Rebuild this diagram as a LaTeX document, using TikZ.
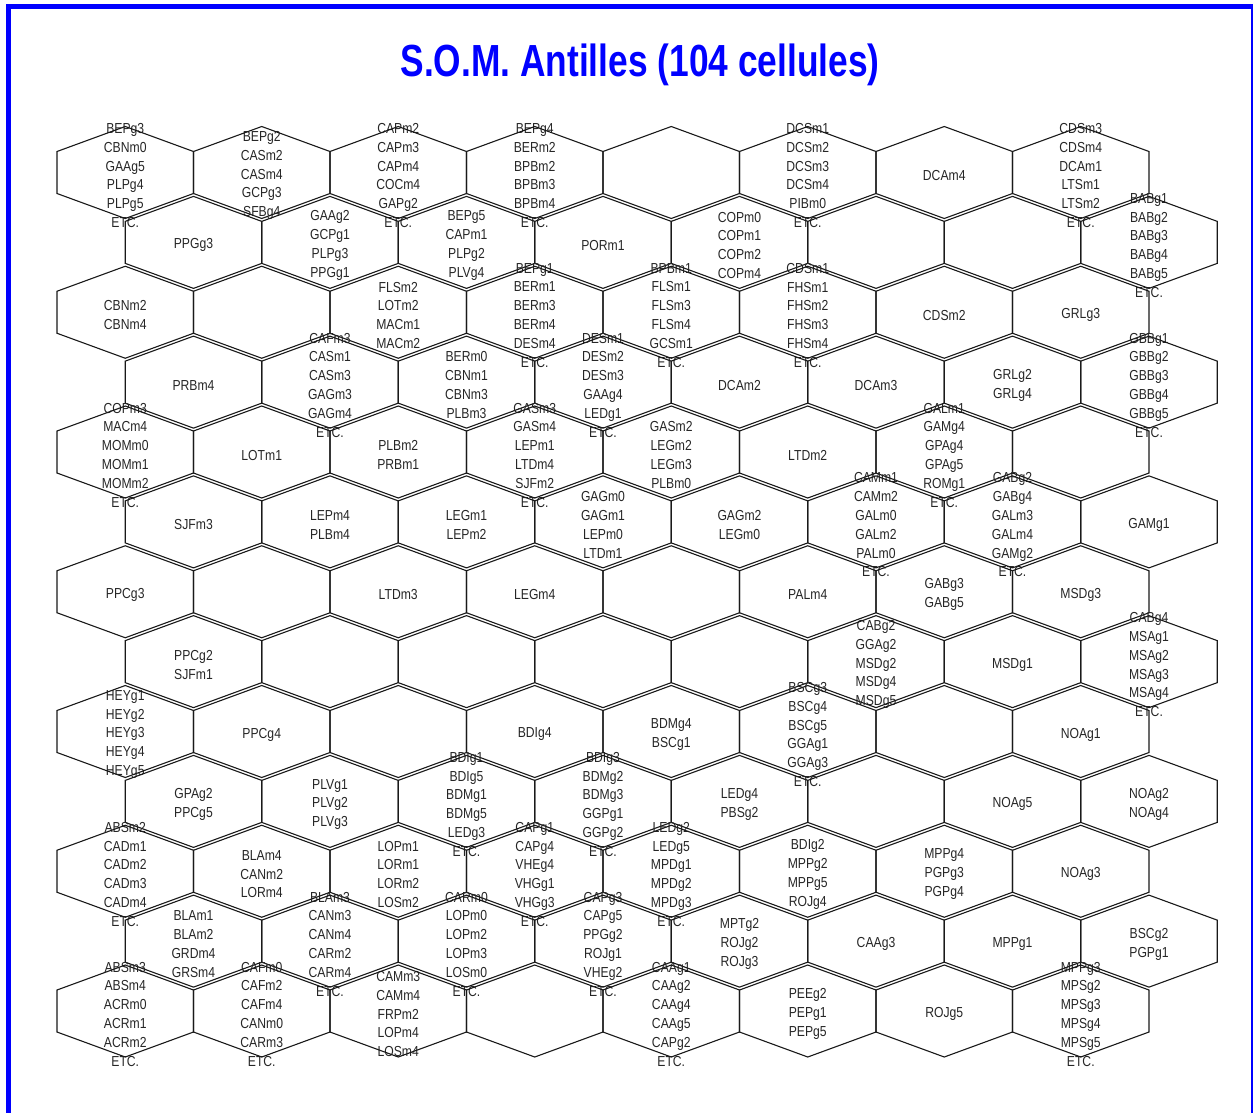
\documentclass[tikz,border=0pt]{standalone}
\usepackage{fontspec}
\setmainfont{Liberation Sans}
\newfontfamily\cellfont[FakeStretch=0.84]{Liberation Sans}
\newfontfamily\titlefont[FakeStretch=0.785]{Liberation Sans}
\usetikzlibrary{calc}
\definecolor{somBlue}{HTML}{0000FF}
\definecolor{somText}{HTML}{262626}

% one cell of the map: row, column, labels
\newcommand{\somcell}[3]{%
  \pgfmathsetmacro{\cx}{125.25+136.5*#2+68.25*mod(#1,2)}%
  \pgfmathsetmacro{\cy}{172.5+69.875*#1}%
  \node[lab] (c#1-#2) at (\cx,\cy+3) {#3};
  \draw[hexline] (\cx-68.25,\cy-21) -- (\cx,\cy-46) -- (\cx+68.25,\cy-21)
    -- (\cx+68.25,\cy+21) -- (\cx,\cy+46) -- (\cx-68.25,\cy+21) -- cycle;
}

\begin{document}
\begin{tikzpicture}[x=1pt, y=-1pt,
    lab/.style={font=\cellfont\fontsize{14.5}{18.8}\selectfont, text=somText,
                align=center, inner sep=0pt},
    hexline/.style={draw=black!90, line width=1.1pt},
  ]
    \useasboundingbox (0,0) rectangle (1253,1112);
    \clip (0,0) rectangle (1253,1112);

    % frame and title
    \draw[somBlue, line width=5pt] (8.5,6.5) rectangle (1253.5,1140);
    \node[font=\titlefont\bfseries\fontsize{45}{50}\selectfont, text=somBlue,
          anchor=base] (title) at (640,76) {S.O.M. Antilles (104 cellules)};

    % row 0
    \foreach \lab [count=\col from 0] in {
      {BEPg3\\CBNm0\\GAAg5\\PLPg4\\PLPg5\\ETC.}, {BEPg2\\CASm2\\CASm4\\GCPg3\\SFBg4},
      {CAPm2\\CAPm3\\CAPm4\\COCm4\\GAPg2\\ETC.}, {BEPg4\\BERm2\\BPBm2\\BPBm3\\BPBm4\\ETC.},
      {}, {DCSm1\\DCSm2\\DCSm3\\DCSm4\\PIBm0\\ETC.}, {DCAm4},
      {CDSm3\\CDSm4\\DCAm1\\LTSm1\\LTSm2\\ETC.}}
      {\somcell{0}{\col}{\lab}}
    % row 1
    \foreach \lab [count=\col from 0] in {
      {PPGg3}, {GAAg2\\GCPg1\\PLPg3\\PPGg1}, {BEPg5\\CAPm1\\PLPg2\\PLVg4}, {PORm1},
      {COPm0\\COPm1\\COPm2\\COPm4}, {}, {}, {BABg1\\BABg2\\BABg3\\BABg4\\BABg5\\ETC.}}
      {\somcell{1}{\col}{\lab}}
    % row 2
    \foreach \lab [count=\col from 0] in {
      {CBNm2\\CBNm4}, {}, {FLSm2\\LOTm2\\MACm1\\MACm2},
      {BEPg1\\BERm1\\BERm3\\BERm4\\DESm4\\ETC.}, {BPBm1\\FLSm1\\FLSm3\\FLSm4\\GCSm1\\ETC.},
      {CDSm1\\FHSm1\\FHSm2\\FHSm3\\FHSm4\\ETC.}, {CDSm2}, {GRLg3}}
      {\somcell{2}{\col}{\lab}}
    % row 3
    \foreach \lab [count=\col from 0] in {
      {PRBm4}, {CAFm3\\CASm1\\CASm3\\GAGm3\\GAGm4\\ETC.}, {BERm0\\CBNm1\\CBNm3\\PLBm3},
      {DESm1\\DESm2\\DESm3\\GAAg4\\LEDg1\\ETC.}, {DCAm2}, {DCAm3}, {GRLg2\\GRLg4},
      {GBBg1\\GBBg2\\GBBg3\\GBBg4\\GBBg5\\ETC.}}
      {\somcell{3}{\col}{\lab}}
    % row 4
    \foreach \lab [count=\col from 0] in {
      {COPm3\\MACm4\\MOMm0\\MOMm1\\MOMm2\\ETC.}, {LOTm1}, {PLBm2\\PRBm1},
      {GASm3\\GASm4\\LEPm1\\LTDm4\\SJFm2\\ETC.}, {GASm2\\LEGm2\\LEGm3\\PLBm0}, {LTDm2},
      {GALm1\\GAMg4\\GPAg4\\GPAg5\\ROMg1\\ETC.}, {}}
      {\somcell{4}{\col}{\lab}}
    % row 5
    \foreach \lab [count=\col from 0] in {
      {SJFm3}, {LEPm4\\PLBm4}, {LEGm1\\LEPm2}, {GAGm0\\GAGm1\\LEPm0\\LTDm1},
      {GAGm2\\LEGm0}, {CAMm1\\CAMm2\\GALm0\\GALm2\\PALm0\\ETC.},
      {GABg2\\GABg4\\GALm3\\GALm4\\GAMg2\\ETC.}, {GAMg1}}
      {\somcell{5}{\col}{\lab}}
    % row 6
    \foreach \lab [count=\col from 0] in {
      {PPCg3}, {}, {LTDm3}, {LEGm4}, {}, {PALm4}, {GABg3\\GABg5}, {MSDg3}}
      {\somcell{6}{\col}{\lab}}
    % row 7
    \foreach \lab [count=\col from 0] in {
      {PPCg2\\SJFm1}, {}, {}, {}, {}, {CABg2\\GGAg2\\MSDg2\\MSDg4\\MSDg5}, {MSDg1},
      {CABg4\\MSAg1\\MSAg2\\MSAg3\\MSAg4\\ETC.}}
      {\somcell{7}{\col}{\lab}}
    % row 8
    \foreach \lab [count=\col from 0] in {
      {HEYg1\\HEYg2\\HEYg3\\HEYg4\\HEYg5}, {PPCg4}, {}, {BDIg4}, {BDMg4\\BSCg1},
      {BSCg3\\BSCg4\\BSCg5\\GGAg1\\GGAg3\\ETC.}, {}, {NOAg1}}
      {\somcell{8}{\col}{\lab}}
    % row 9
    \foreach \lab [count=\col from 0] in {
      {GPAg2\\PPCg5}, {PLVg1\\PLVg2\\PLVg3}, {BDIg1\\BDIg5\\BDMg1\\BDMg5\\LEDg3\\ETC.},
      {BDIg3\\BDMg2\\BDMg3\\GGPg1\\GGPg2\\ETC.}, {LEDg4\\PBSg2}, {}, {NOAg5},
      {NOAg2\\NOAg4}}
      {\somcell{9}{\col}{\lab}}
    % row 10
    \foreach \lab [count=\col from 0] in {
      {ABSm2\\CADm1\\CADm2\\CADm3\\CADm4\\ETC.}, {BLAm4\\CANm2\\LORm4},
      {LOPm1\\LORm1\\LORm2\\LOSm2}, {CAPg1\\CAPg4\\VHEg4\\VHGg1\\VHGg3\\ETC.},
      {LEDg2\\LEDg5\\MPDg1\\MPDg2\\MPDg3\\ETC.}, {BDIg2\\MPPg2\\MPPg5\\ROJg4},
      {MPPg4\\PGPg3\\PGPg4}, {NOAg3}}
      {\somcell{10}{\col}{\lab}}
    % row 11
    \foreach \lab [count=\col from 0] in {
      {BLAm1\\BLAm2\\GRDm4\\GRSm4}, {BLAm3\\CANm3\\CANm4\\CARm2\\CARm4\\ETC.},
      {CARm0\\LOPm0\\LOPm2\\LOPm3\\LOSm0\\ETC.}, {CAPg3\\CAPg5\\PPGg2\\ROJg1\\VHEg2\\ETC.},
      {MPTg2\\ROJg2\\ROJg3}, {CAAg3}, {MPPg1}, {BSCg2\\PGPg1}}
      {\somcell{11}{\col}{\lab}}
    % row 12
    \foreach \lab [count=\col from 0] in {
      {ABSm3\\ABSm4\\ACRm0\\ACRm1\\ACRm2\\ETC.}, {CAFm0\\CAFm2\\CAFm4\\CANm0\\CARm3\\ETC.},
      {CAMm3\\CAMm4\\FRPm2\\LOPm4\\LOSm4}, {}, {CAAg1\\CAAg2\\CAAg4\\CAAg5\\CAPg2\\ETC.},
      {PEEg2\\PEPg1\\PEPg5}, {ROJg5}, {MPPg3\\MPSg2\\MPSg3\\MPSg4\\MPSg5\\ETC.}}
      {\somcell{12}{\col}{\lab}}
\end{tikzpicture}
\end{document}
